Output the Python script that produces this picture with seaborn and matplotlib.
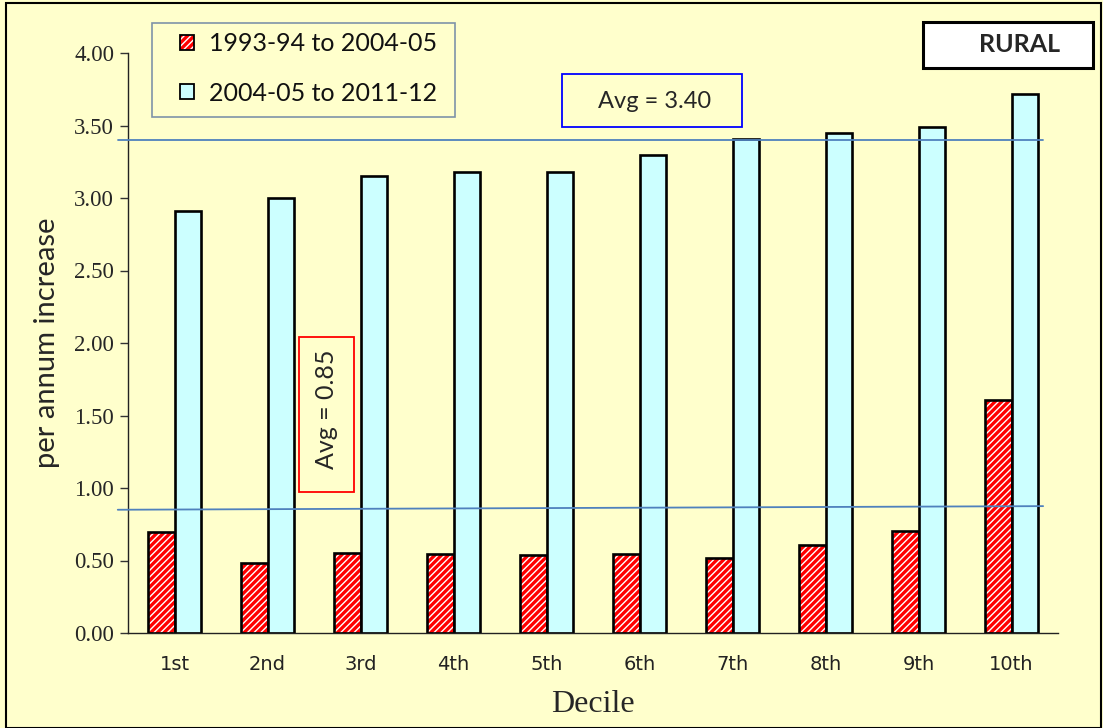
import numpy as np
import pandas as pd
import matplotlib
matplotlib.use("Agg")
import matplotlib.pyplot as plt
import seaborn as sns
from matplotlib.patches import Rectangle
from matplotlib.colors import to_rgba

# ---- data ----
deciles = ["1st", "2nd", "3rd", "4th", "5th", "6th", "7th", "8th", "9th", "10th"]
series_names = ["1993-94 to 2004-05", "2004-05 to 2011-12"]
growth_1993_2004 = [0.70, 0.485, 0.555, 0.545, 0.54, 0.545, 0.52, 0.61, 0.705, 1.61]
growth_2004_2011 = [2.91, 3.00, 3.15, 3.18, 3.18, 3.30, 3.405, 3.45, 3.49, 3.72]
avg_1993_2004_line = [0.85, 0.875]   # hand-drawn line, slightly sloped
avg_2004_2011_line = [3.40, 3.40]
avg_labels = ["Avg = 0.85", "Avg = 3.40"]
yticks = [0.0, 0.5, 1.0, 1.5, 2.0, 2.5, 3.0, 3.5, 4.0]
panel_label = "RURAL"

df = pd.DataFrame({
    "Decile": deciles * 2,
    "value": growth_1993_2004 + growth_2004_2011,
    "period": [series_names[0]] * len(deciles) + [series_names[1]] * len(deciles),
})

BG = "#FFFFCC"
RED = "#FF0000"
CYAN = "#CCFFFF"
LINE = "#4F81BD"

sns.set_style("white")
plt.rcParams["hatch.linewidth"] = 1.0

W, H = 1103, 728
fig = plt.figure(figsize=(W / 100, H / 100), dpi=100, facecolor=BG)
ax = fig.add_axes([128 / W, 1 - 633 / H, 930 / W, 580 / H])
ax.set_facecolor(BG)

def px(x, y):
    return x / W, 1 - y / H

sns.barplot(data=df, x="Decile", y="value", hue="period", order=deciles,
            hue_order=series_names, palette=[RED, CYAN], width=0.58, gap=0,
            edgecolor="black", linewidth=1.9, saturation=1, ax=ax, legend=False)

white = to_rgba("white")
def white_hatch(p, h="/////"):
    p.set_hatch(h)
    if hasattr(p, "set_hatchcolor"):
        p.set_hatchcolor("white")
    else:
        p._hatch_color = white

for p in ax.containers[0]:
    white_hatch(p)

ax.set_xlim(-0.5, len(deciles) - 0.5)
ax.set_ylim(0, 4)
ax.set_yticks(yticks)
ax.set_yticklabels([f"{v:.2f}" for v in yticks], family="Liberation Serif", fontsize=16.5)
ax.set_xticks(range(len(deciles)))
ax.set_xticklabels(deciles, family="DejaVu Sans", fontsize=14, color="#222222")
ax.set_xticks(np.arange(-0.5, len(deciles), 1.0), minor=True)
ax.tick_params(axis="x", which="major", length=0, pad=16)
ax.tick_params(axis="x", which="minor", length=7, width=1, color="#333333", direction="out")
ax.tick_params(axis="y", length=6, width=1, color="#333333", direction="out", left=True, pad=4)

for s in ["top", "right"]:
    ax.spines[s].set_visible(False)
for s in ["left", "bottom"]:
    ax.spines[s].set_color("#222222")
    ax.spines[s].set_linewidth(1.0)

ax.set_ylabel("per annum increase", family="Lato", fontsize=21, labelpad=10)
ax.set_xlabel("Decile", family="Liberation Serif", fontsize=23, labelpad=11)

# average lines
x_line = [-0.61, 9.34]
ax.plot(x_line, avg_1993_2004_line, color=LINE, lw=1.3, clip_on=False, zorder=5)
ax.plot(x_line, avg_2004_2011_line, color=LINE, lw=1.3, clip_on=False, zorder=5)

# boxes
def fig_box(x0, y0, x1, y1, ec, fc, lw, z=10):
    fx0, fy1 = px(x0, y0)
    fx1, fy0 = px(x1, y1)
    fig.add_artist(Rectangle((fx0, fy0), fx1 - fx0, fy1 - fy0, transform=fig.transFigure,
                             facecolor=fc, edgecolor=ec, lw=lw, zorder=z))

fig_box(562, 74, 742, 127, "#0000FF", BG, 1.3)
fig.text(*px(655, 101), avg_labels[1], ha="center", va="center", family="Lato",
         fontsize=17, zorder=11)
fig_box(299, 337, 354, 492, "#FF0000", BG, 1.3)
fig.text(*px(327, 409), avg_labels[0], ha="center", va="center", rotation=90,
         family="Lato", fontsize=18, zorder=11)

# RURAL box
fig_box(923, 22, 1093, 68, "black", "white", 2.2)
fig.text(*px(1020, 44), panel_label, ha="center", va="center", family="Lato",
         fontweight="bold", fontsize=18, zorder=11)

# legend (frame drawn separately to match the reference's wide box)
fig_box(152, 23, 455, 117, "#7F93A8", BG, 1.2, z=11)
h1 = Rectangle((0, 0), 1, 1, facecolor=RED, edgecolor="black", lw=1.3)
white_hatch(h1)
h2 = Rectangle((0, 0), 1, 1, facecolor=CYAN, edgecolor="black", lw=1.3)
leg = fig.legend([h1, h2], series_names, loc="center left",
                 bbox_to_anchor=px(180, 68.5), bbox_transform=fig.transFigure,
                 prop={"family": "Lato", "size": 18}, frameon=False,
                 handlelength=0.55, handleheight=0.55, handletextpad=0.6,
                 labelspacing=1.05, borderpad=0, borderaxespad=0)
leg.set_zorder(12)
for t in leg.get_texts():
    t.set_color("#111111")

# figure border
fig.add_artist(Rectangle((6 / W, 0), 1 - 8 / W, 1 - 3 / H, transform=fig.transFigure,
                         fill=False, edgecolor="black", lw=1.5, zorder=20))

fig.savefig("out.png", dpi=100, facecolor=BG)
